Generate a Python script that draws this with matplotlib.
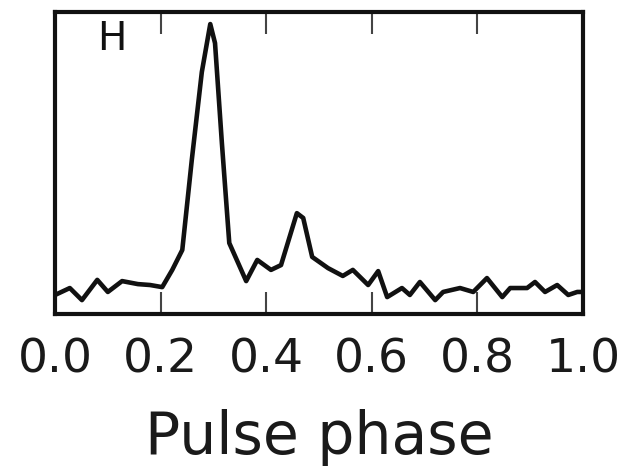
import numpy as np
import matplotlib
matplotlib.use("Agg")
import matplotlib.pyplot as plt

# pulse profile, band H (normalised counts per phase bin)
phase = [0.000, 0.028, 0.051, 0.080, 0.100, 0.127, 0.157, 0.180, 0.203, 0.222,
         0.241, 0.259, 0.278, 0.294, 0.303, 0.316, 0.330, 0.362, 0.383, 0.409,
         0.428, 0.458, 0.470, 0.487, 0.517, 0.545, 0.564, 0.593, 0.612, 0.629,
         0.657, 0.672, 0.691, 0.720, 0.735, 0.767, 0.792, 0.818, 0.847, 0.862,
         0.894, 0.909, 0.928, 0.951, 0.972, 0.989, 1.000]
counts = [0.063, 0.086, 0.046, 0.113, 0.073, 0.109, 0.099, 0.096, 0.089, 0.146,
          0.212, 0.510, 0.801, 0.960, 0.897, 0.566, 0.235, 0.109, 0.179, 0.146,
          0.162, 0.334, 0.318, 0.189, 0.152, 0.126, 0.146, 0.096, 0.142, 0.056,
          0.086, 0.063, 0.106, 0.046, 0.073, 0.086, 0.073, 0.119, 0.056, 0.086,
          0.086, 0.106, 0.073, 0.096, 0.063, 0.073, 0.073]
xticks = [0.0, 0.2, 0.4, 0.6, 0.8, 1.0]
band = "H"

fig = plt.figure(figsize=(6.26, 4.70), dpi=100)
ax = fig.add_axes([0.0879, 0.3319, 0.8435, 0.6426])

ax.plot(phase, counts, color="#111111", lw=3.3, solid_joinstyle="round")
ax.text(0.08, 0.975, band, transform=ax.transAxes, ha="left", va="top",
        fontsize=28, color="#111111")

ax.set_xlim(0, 1)
ax.set_ylim(0, 1)
ax.set_xticks(xticks)
ax.set_xticklabels([f"{t:.1f}" for t in xticks])
ax.set_yticks([])
ax.tick_params(axis="x", direction="in", top=True, length=16, width=1.5,
               color="#444444", labelsize=34, labelcolor="#1a1a1a", pad=17)
for sp in ax.spines.values():
    sp.set_linewidth(3)
    sp.set_color("#111111")
ax.set_xlabel("Pulse phase", fontsize=42, labelpad=19, color="#1a1a1a")

fig.savefig("out.png", dpi=100)
